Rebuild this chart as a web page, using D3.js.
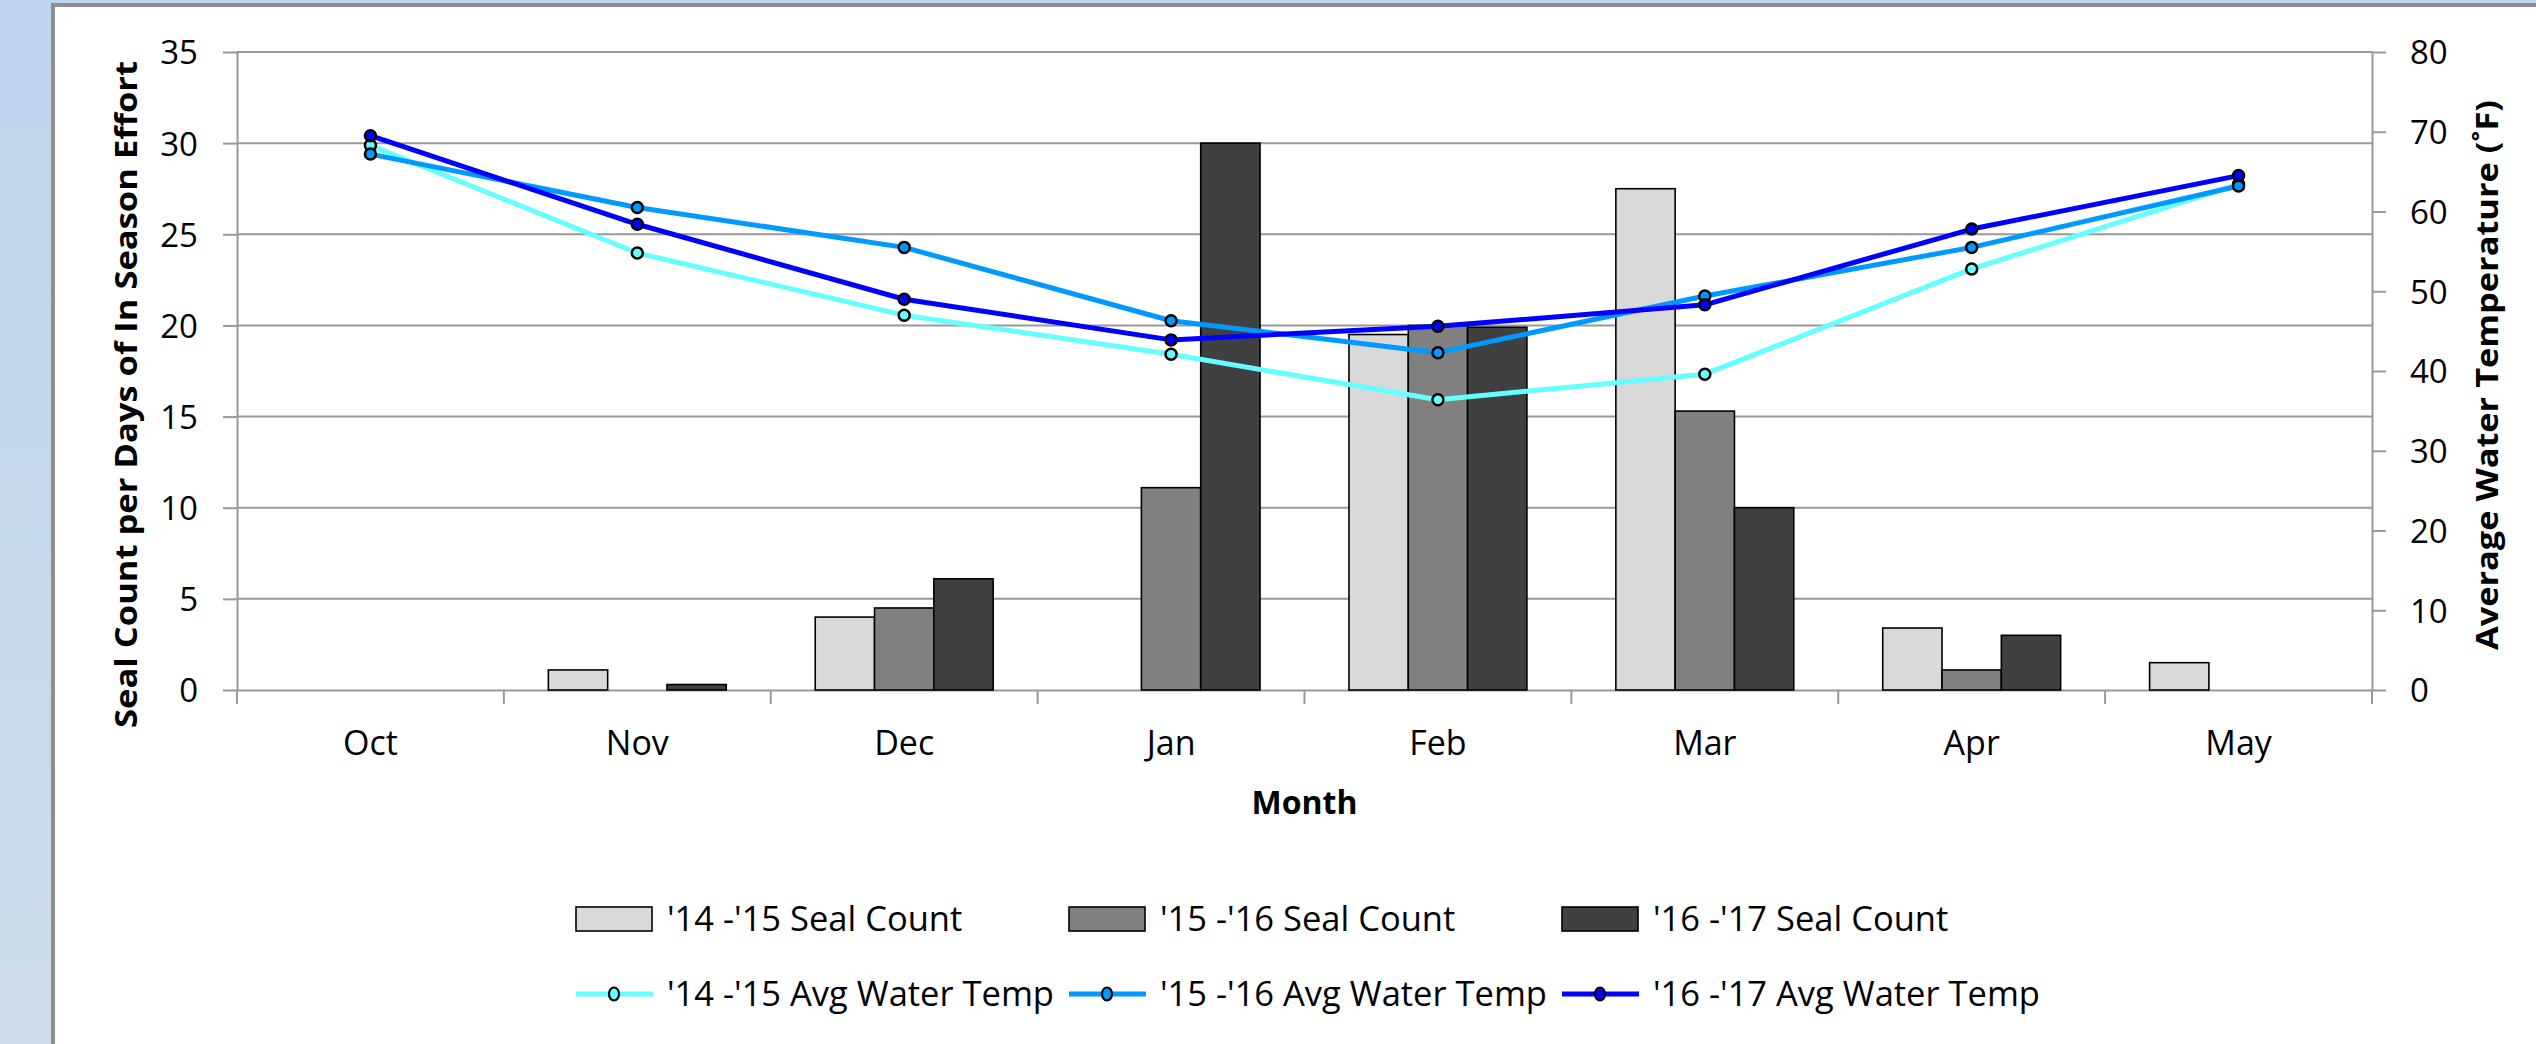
<!DOCTYPE html>
<html>
<head>
<meta charset="utf-8">
<script src="https://cdn.jsdelivr.net/npm/d3@7"></script>
<style>
  html, body { margin: 0; padding: 0; background: #fff; }
  svg { display: block; }
  text { font-family: "Open Sans", "Liberation Sans", sans-serif; fill: #000; }
</style>
</head>
<body>
<svg id="chart" width="2536" height="1044"></svg>
<script>
// ---- data ----
const months = ["Oct", "Nov", "Dec", "Jan", "Feb", "Mar", "Apr", "May"];
const barSeries = ["'14 -'15 Seal Count", "'15 -'16 Seal Count", "'16 -'17 Seal Count"];
const seal1415 = [0, 1.1, 4.0, 0, 19.5, 27.5, 3.4, 1.5];
const seal1516 = [0, 0, 4.5, 11.1, 20.0, 15.3, 1.1, 0];
const seal1617 = [0, 0.3, 6.1, 30.0, 19.9, 10.0, 3.0, 0];
const lineSeries = ["'14 -'15 Avg Water Temp", "'15 -'16 Avg Water Temp", "'16 -'17 Avg Water Temp"];
const temp1415 = [68.3, 54.8, 47.0, 42.1, 36.4, 39.6, 52.8, 63.4];
const temp1516 = [67.2, 60.5, 55.5, 46.3, 42.3, 49.4, 55.5, 63.2];
const temp1617 = [69.5, 58.4, 49.0, 43.9, 45.6, 48.3, 57.8, 64.5];
const leftTicks = [0, 5, 10, 15, 20, 25, 30, 35];
const rightTicks = [0, 10, 20, 30, 40, 50, 60, 70, 80];

const barColors = ["#D9D9D9", "#808080", "#404040"];
const lineColors = ["#66FFFF", "#0099FF", "#0000FF"];
const barData = [seal1415, seal1516, seal1617];
const lineData = [temp1415, temp1516, temp1617];

const svg = d3.select("#chart");

// ---- frame / background ----
const defs = svg.append("defs");
const grad = defs.append("linearGradient").attr("id", "sideGrad")
  .attr("x1", 0).attr("y1", 0).attr("x2", 0).attr("y2", 1);
grad.append("stop").attr("offset", 0).attr("stop-color", "#BFD4EE");
grad.append("stop").attr("offset", 1).attr("stop-color", "#CEDCEA");
svg.append("rect").attr("x", 0).attr("y", 0).attr("width", 2536).attr("height", 1044).attr("fill", "url(#sideGrad)");
svg.append("rect").attr("x", 51).attr("y", 3).attr("width", 2536 - 51).attr("height", 1044 - 3).attr("fill", "#8E8E8E");
svg.append("rect").attr("x", 55).attr("y", 7).attr("width", 2536 - 55).attr("height", 1044 - 7).attr("fill", "#FFFFFF");

// ---- scales ----
const plot = { left: 237, right: 2372, top: 52, bottom: 690 };
const x = d3.scaleBand().domain(months).range([plot.left, plot.right]).paddingInner(0).paddingOuter(0);
const bw = x.bandwidth() / 4.5;
const x1 = d3.scaleBand().domain(barSeries).range([0.75 * bw, 3.75 * bw]).padding(0);
const yL = d3.scaleLinear().domain([0, 35]).range([plot.bottom, plot.top]);
const yR = d3.scaleLinear().domain([0, 80]).range([plot.bottom, plot.top]);

const gridColor = "#999999";

// ---- gridlines ----
svg.append("g").selectAll("line").data(leftTicks.filter(d => d > 0)).join("line")
  .attr("x1", plot.left).attr("x2", plot.right)
  .attr("y1", d => yL(d)).attr("y2", d => yL(d))
  .attr("stroke", gridColor).attr("stroke-width", 2);

// ---- left axis ----
const axL = svg.append("g").attr("transform", `translate(${plot.left},0)`)
  .call(d3.axisLeft(yL).tickValues(leftTicks).tickSize(14).tickSizeOuter(0).tickPadding(25));
axL.select(".domain").attr("stroke", gridColor).attr("stroke-width", 2);
axL.selectAll(".tick line").attr("stroke", gridColor).attr("stroke-width", 2);
axL.selectAll(".tick text").attr("font-size", 33).attr("font-family", "Open Sans").attr("fill", "#111").attr("dy", "0.36em");

// ---- right axis ----
const axR = svg.append("g").attr("transform", `translate(${plot.right},0)`)
  .call(d3.axisRight(yR).tickValues(rightTicks).tickSize(14).tickSizeOuter(0).tickPadding(24));
axR.select(".domain").attr("stroke", gridColor).attr("stroke-width", 2);
axR.selectAll(".tick line").attr("stroke", gridColor).attr("stroke-width", 2);
axR.selectAll(".tick text").attr("font-size", 33).attr("font-family", "Open Sans").attr("fill", "#111").attr("dy", "0.36em");

// ---- bottom axis ----
const axB = svg.append("g").attr("transform", `translate(0,${plot.bottom})`)
  .call(d3.axisBottom(x).tickSize(0).tickPadding(41));
axB.select(".domain").attr("stroke", gridColor).attr("stroke-width", 2);
axB.selectAll(".tick text").attr("font-size", 34).attr("font-family", "Open Sans").attr("fill", "#111");
const boundaries = months.map(m => x(m)).concat([x.range()[1]]);
svg.append("g").selectAll("line").data(boundaries).join("line")
  .attr("x1", d => d).attr("x2", d => d)
  .attr("y1", plot.bottom).attr("y2", plot.bottom + 14)
  .attr("stroke", gridColor).attr("stroke-width", 2);

// ---- bars ----
barSeries.forEach((s, i) => {
  svg.append("g").selectAll("rect")
    .data(months.map((m, j) => ({ m, v: barData[i][j] })).filter(d => d.v > 0))
    .join("rect")
    .attr("x", d => x(d.m) + x1(s))
    .attr("width", x1.bandwidth())
    .attr("y", d => yL(d.v))
    .attr("height", d => yL(0) - yL(d.v))
    .attr("fill", barColors[i])
    .attr("stroke", "#000").attr("stroke-width", 1.6);
});

// ---- lines ----
const line = d3.line().x(d => x(d.m) + x.bandwidth() / 2).y(d => yR(d.v));
lineSeries.forEach((s, i) => {
  const pts = months.map((m, j) => ({ m, v: lineData[i][j] }));
  const g = svg.append("g");
  g.append("path").datum(pts).attr("d", line)
    .attr("fill", "none").attr("stroke", lineColors[i]).attr("stroke-width", 5)
    .attr("stroke-linejoin", "round");
  g.selectAll("circle").data(pts).join("circle")
    .attr("cx", d => x(d.m) + x.bandwidth() / 2).attr("cy", d => yR(d.v))
    .attr("r", 5.5).attr("fill", lineColors[i]).attr("stroke", "#000").attr("stroke-width", 2.5);
});

// ---- axis titles ----
svg.append("text").attr("transform", `translate(137,${(61 + 728) / 2}) rotate(-90)`)
  .attr("text-anchor", "middle").attr("font-size", 31).attr("font-weight", "bold")
  .attr("textLength", 667).attr("lengthAdjust", "spacingAndGlyphs")
  .text("Seal Count per Days of In Season Effort");
svg.append("text").attr("transform", `translate(2498,${(100 + 650) / 2}) rotate(-90)`)
  .attr("text-anchor", "middle").attr("font-size", 31).attr("font-weight", "bold")
  .attr("textLength", 550).attr("lengthAdjust", "spacingAndGlyphs")
  .text("Average Water Temperature (˚F)");
svg.append("text").attr("x", (plot.left + plot.right) / 2).attr("y", 814)
  .attr("text-anchor", "middle").attr("font-size", 32).attr("font-weight", "bold")
  .text("Month");

// ---- legend ----
const legX = [576, 1069, 1562];
const leg = svg.append("g");
barSeries.forEach((s, i) => {
  leg.append("rect").attr("x", legX[i]).attr("y", 907).attr("width", 76).attr("height", 24)
    .attr("fill", barColors[i]).attr("stroke", "#000").attr("stroke-width", 1.6);
  leg.append("text").attr("x", legX[i] + 91).attr("y", 931).attr("font-size", 34.5).attr("fill", "#111").text(s);
});
lineSeries.forEach((s, i) => {
  leg.append("line").attr("x1", legX[i]).attr("x2", legX[i] + 77).attr("y1", 994).attr("y2", 994)
    .attr("stroke", lineColors[i]).attr("stroke-width", 5);
  leg.append("ellipse").attr("cx", legX[i] + 38).attr("cy", 994).attr("rx", 5).attr("ry", 6.5)
    .attr("fill", lineColors[i]).attr("stroke", "#000").attr("stroke-width", 2.2);
  leg.append("text").attr("x", legX[i] + 91).attr("y", 1006).attr("font-size", 34.5).attr("fill", "#111").text(s);
});
</script>
</body>
</html>
